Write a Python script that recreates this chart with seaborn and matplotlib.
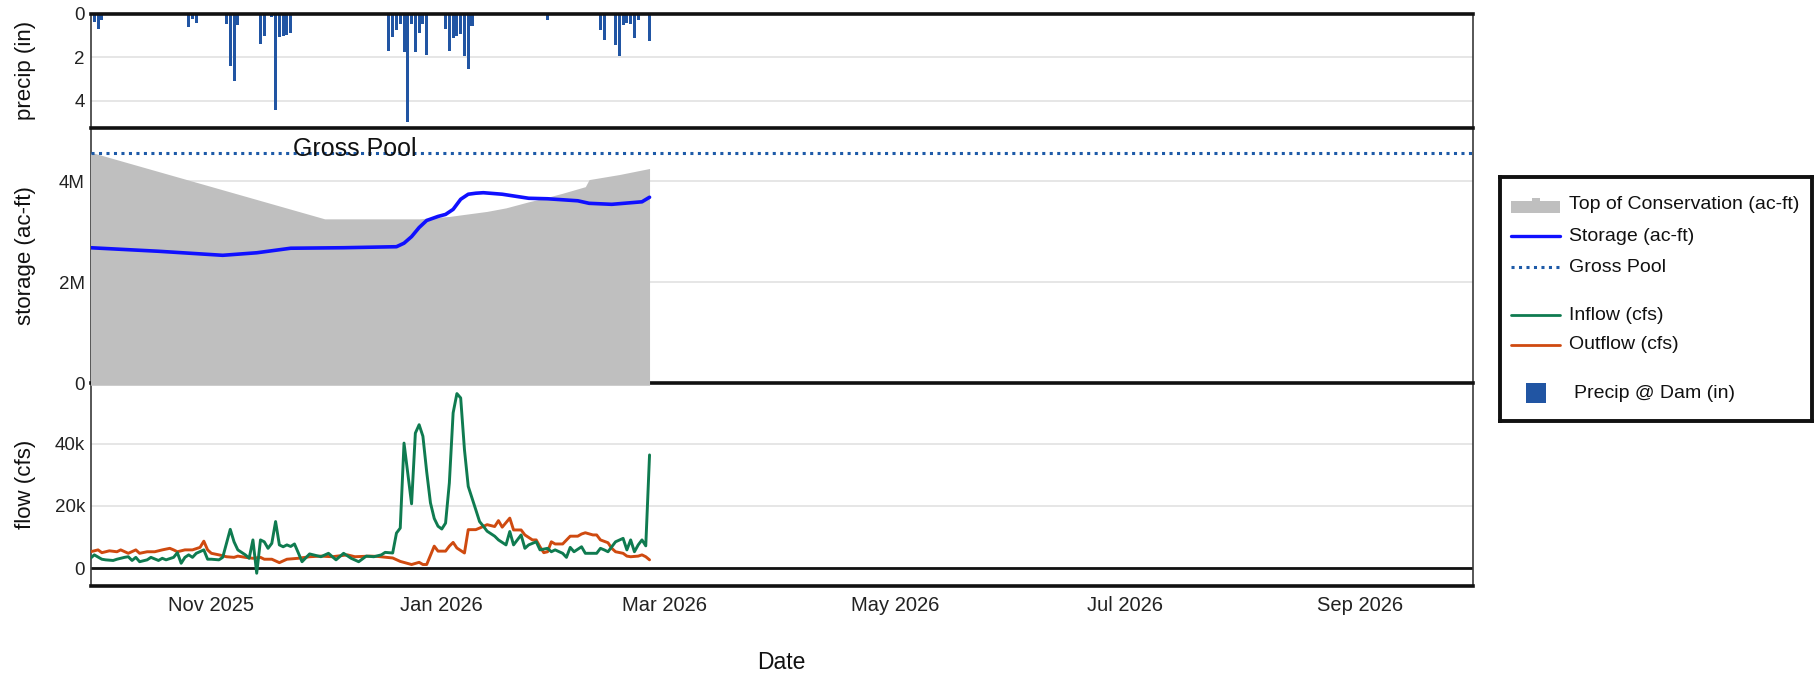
import numpy as np
import pandas as pd
import matplotlib
matplotlib.use("Agg")
import matplotlib.pyplot as plt
import matplotlib.dates as mdates
from matplotlib.ticker import FixedLocator, FuncFormatter
from matplotlib.lines import Line2D
from matplotlib.patches import Rectangle
import seaborn as sns

sns.set_theme(style="white")
plt.rcParams['font.family'] = ['Liberation Sans', 'DejaVu Sans']

# ---------------- data (day offsets from 2025-09-30) ----------------
START = pd.Timestamp("2025-09-30")

precip_day = [1, 2, 3, 15, 26, 27, 28, 36, 37, 38, 39, 45, 46, 48, 49, 50, 51, 52, 53,
              79, 80, 81, 82, 83, 84, 85, 86, 87, 88, 89,
              94, 95, 96, 97, 98, 99, 100, 101, 121,
              135, 136, 139, 140, 141, 142, 143, 144, 145, 147, 148]
precip_in = [0.35, 0.68, 0.26, 0.05, 0.62, 0.22, 0.42, 0.45, 2.40, 3.10, 0.53, 1.40, 1.00, 0.15, 4.44, 1.04, 1.03, 0.98, 0.88,
             1.73, 1.08, 0.72, 0.48, 1.77, 5.00, 0.48, 1.77, 0.88, 0.46, 1.90,
             0.68, 1.72, 1.09, 1.00, 0.92, 1.96, 2.53, 0.55, 0.28,
             0.72, 1.19, 1.42, 1.93, 0.50, 0.42, 0.45, 1.10, 0.26, 0.05, 1.26]

toc_day = [0, 1, 62, 87, 95, 100, 105, 110, 116, 120, 125, 131, 132, 140, 148]
toc_af = [4.552e6, 4.552e6, 3.252e6, 3.252e6, 3.30e6, 3.35e6, 3.40e6, 3.47e6, 3.59e6,
          3.66e6, 3.76e6, 3.89e6, 4.03e6, 4.13e6, 4.25e6]

storage_day = [0, 18, 35, 44, 53, 67, 81, 83, 85, 87, 89, 92, 94, 96, 98, 100, 102, 104, 109,
               116, 121, 129, 132, 138, 146, 148]
storage_af = [2.68e6, 2.61e6, 2.53e6, 2.58e6, 2.67e6, 2.68e6, 2.70e6, 2.77e6, 2.90e6,
              3.08e6, 3.22e6, 3.30e6, 3.34e6, 3.44e6, 3.64e6, 3.74e6, 3.76e6, 3.77e6, 3.74e6,
              3.66e6, 3.65e6, 3.61e6, 3.56e6, 3.54e6, 3.59e6, 3.68e6]

gross_pool_af = 4.552e6

inflow_day = [0, 1, 3, 4, 6, 7, 9, 10, 11, 12, 13, 15, 16, 18, 19, 20, 22, 23, 24, 25, 26, 27, 28,
              30, 31, 32, 34, 35, 37, 38, 39, 41, 42, 43, 44, 45, 46, 47, 48, 49, 50, 51,
              52, 53, 54, 55, 56, 58, 61, 63, 65, 67, 69, 71, 73, 75, 77, 78, 80, 81, 82, 83,
              85, 86, 87, 88, 89, 90, 91, 92, 93, 94, 95, 96, 97, 98, 99, 100, 102, 103, 104,
              105, 107, 108, 110, 111, 112, 114, 115, 116, 118, 119, 121, 122, 123, 125, 126,
              127, 128, 130, 131, 134, 135, 136, 137, 138, 139, 141, 142, 143, 144, 145, 146,
              147, 148]
inflow_cfs = [3200, 4300, 2900, 2700, 2500, 2900, 3500, 3700, 2500, 3500, 2100, 2700, 3500, 2500,
              3200, 2700, 3500, 5000, 1600, 3500, 4300, 3500, 4800,
              5900, 2900, 2900, 2700, 3500, 12500, 8500, 5900, 4300, 3200, 9100, -1600, 9100,
              8500, 6400, 8000, 15000, 7500, 6900,
              7500, 7000, 7800, 5000, 2100, 4600, 3700, 4800, 2700, 4800, 3200, 2100, 3900,
              3700, 4300, 5100, 4900, 11300, 12900, 40200,
              20700, 43400, 46100, 42400, 31000, 21000, 16000, 13500, 12600, 14500, 27400,
              49900, 56100, 54700, 38100, 26300, 18800, 15000, 13500,
              11900, 10300, 9100, 7500, 11800, 7500, 10700, 6400, 7500, 8500, 5900, 6400,
              5300, 5900, 4800, 3500,
              6700, 5300, 6900, 4800, 4800, 6400, 5900, 5300, 6900, 8500, 9600, 5900, 9100,
              5300, 7500, 9100, 7200, 36400]

outflow_day = [0, 2, 3, 5, 7, 8, 10, 12, 13, 15, 17, 19, 21, 22, 23, 25, 27, 29, 30, 31, 32,
               34, 36, 38, 39, 41, 43, 45, 46, 48, 50, 52, 55, 58, 61, 64, 68, 70, 74, 76,
               80, 82, 85, 87, 88, 89, 91, 92, 94, 95, 96, 97, 99, 100, 102, 103, 105, 107,
               108, 109, 111, 112, 114, 115, 117, 118, 119, 120, 121, 122, 123, 125, 127,
               129, 130, 131, 133, 134, 135, 137, 138, 139, 141, 142, 143, 145, 146, 147, 148]
outflow_cfs = [5300, 5900, 5000, 5600, 5300, 5900, 4800, 5900, 4800, 5300, 5300, 5900, 6400,
               5900, 5300, 5900, 5900, 6700, 8700, 5900, 4800,
               4300, 3700, 3500, 3900, 3500, 3200, 3500, 2900, 2900, 1800, 2900, 3200, 3700,
               3900, 3700, 4300, 3700, 3900, 3800,
               3300, 2200, 1200, 1900, 1200, 1200, 7100, 5500, 5500, 7100, 8300, 6500, 4900,
               12400, 12400, 12900, 14000, 13400,
               15300, 13200, 16100, 12300, 12300, 10700, 9100, 9100, 6900, 5000, 5300, 8500,
               7800, 7800, 10300,
               10300, 11000, 11400, 10700, 10700, 9100, 8200, 6400, 5300, 4800, 3900, 3700,
               3900, 4300, 3700, 2700]

x_ticks = ["2025-11-01", "2026-01-01", "2026-03-01", "2026-05-01", "2026-07-01", "2026-09-01"]

# ---------------- styling ----------------
C_PRECIP = "#2155a3"
C_STOR = "#1010ff"
C_GROSS = "#1d5aa8"
C_IN = "#0f7b50"
C_OUT = "#cf4a10"
C_TOC = "#bfbfbf"
C_GRID = "#e2e2e2"

def to_dates(days):
    return START + pd.to_timedelta(np.asarray(days, dtype=float), unit="D")

W, H = 1819, 673
fig = plt.figure(figsize=(W / 100, H / 100), dpi=100)
fig.patch.set_facecolor("white")

def rect(x0, y0, x1, y1):
    return [x0 / W, 1 - y1 / H, (x1 - x0) / W, (y1 - y0) / H]

L, R = 90.5, 1473
ax_f = fig.add_axes(rect(L, 383, R, 586))
ax_s = fig.add_axes(rect(L, 127.6, R, 383))
ax_p = fig.add_axes(rect(L, 14, R, 127.6))
ax_s.set_zorder(3)
ax_p.set_zorder(4)
ax_f.set_zorder(2)

xmin = START
xmax = pd.Timestamp("2026-10-01")

for ax in (ax_p, ax_s, ax_f):
    ax.set_facecolor("none")
    ax.set_xlim(xmin, xmax)
    ax.set_axisbelow(True)
    ax.yaxis.grid(True, color=C_GRID, lw=1.2)
    ax.xaxis.grid(False)
    ax.tick_params(axis="both", length=0, labelsize=13.5, colors="#222222", pad=4)
    for s in ("left", "right"):
        ax.spines[s].set_color("#3a3a3a")
        ax.spines[s].set_linewidth(1.2)
    for s in ("top", "bottom"):
        ax.spines[s].set_color("#111111")
        ax.spines[s].set_linewidth(2.6)

# ---- precip panel
pdates = to_dates(precip_day)
ax_p.bar(pdates, precip_in, width=0.8, color=C_PRECIP, linewidth=0, zorder=2)
ax_p.set_ylim(5.25, 0)
ax_p.yaxis.set_major_locator(FixedLocator([0, 2, 4]))
ax_p.yaxis.set_major_formatter(FuncFormatter(lambda v, p: f"{v:.0f}"))
ax_p.set_ylabel("precip (in)", fontsize=16, color="#111111")
ax_p.set_xlabel("")
ax_p.tick_params(axis="x", labelbottom=False)

# ---- storage panel
ax_s.fill_between(to_dates(toc_day), -0.045e6, toc_af, color=C_TOC, lw=0, zorder=2.7, clip_on=False)
sns.lineplot(x=to_dates(storage_day), y=storage_af, ax=ax_s, color=C_STOR, lw=2.6, zorder=4)
ax_s.axhline(gross_pool_af, color=C_GROSS, lw=2.2, ls=(0, (1, 1.45)), zorder=4)
ax_s.text(START + pd.Timedelta(days=70), gross_pool_af - 0.06e6, "Gross Pool",
          ha="center", va="baseline", fontsize=18, color="#111111", zorder=5)
ax_s.set_ylim(0, 5.06e6)
ax_s.yaxis.set_major_locator(FixedLocator([0, 2e6, 4e6]))
ax_s.yaxis.set_major_formatter(FuncFormatter(lambda v, p: "0" if v == 0 else f"{v/1e6:.0f}M"))
ax_s.set_ylabel("storage (ac-ft)", fontsize=16, color="#111111")
ax_s.set_xlabel("")
ax_s.spines["top"].set_visible(False)
ax_s.tick_params(axis="x", labelbottom=False)

# ---- flow panel
sns.lineplot(x=to_dates(inflow_day), y=inflow_cfs, ax=ax_f, color=C_IN, lw=2.1, zorder=4)
sns.lineplot(x=to_dates(outflow_day), y=outflow_cfs, ax=ax_f, color=C_OUT, lw=2.1, zorder=3)
ax_f.axhline(0, color="#111111", lw=2.0, zorder=2)
ax_f.set_ylim(-5700, 59500)
ax_f.yaxis.set_major_locator(FixedLocator([0, 20000, 40000]))
ax_f.yaxis.set_major_formatter(FuncFormatter(lambda v, p: "0" if v == 0 else f"{v/1000:.0f}k"))
ax_f.set_ylabel("flow (cfs)", fontsize=16, color="#111111")
ax_f.spines["top"].set_visible(False)
ax_f.xaxis.set_major_locator(FixedLocator(mdates.date2num(pd.to_datetime(x_ticks))))
ax_f.xaxis.set_major_formatter(mdates.DateFormatter("%b %Y"))
ax_f.tick_params(axis="x", labelsize=14.5, pad=7)
ax_f.set_xlabel("Date", fontsize=16.5, color="#111111")
ax_f.xaxis.set_label_coords(0.5, -0.322)

for ax in (ax_p, ax_s, ax_f):
    ax.yaxis.set_label_coords(-0.0394, 0.5)

# ---- legend (drawn in its own axes, pixel coordinates)
lx0, ly0, lx1, ly1 = 1500, 177, 1812, 421
ax_l = fig.add_axes(rect(lx0, ly0, lx1, ly1))
ax_l.set_xlim(lx0, lx1)
ax_l.set_ylim(ly1, ly0)
ax_l.set_xticks([])
ax_l.set_yticks([])
ax_l.set_facecolor("white")
for s in ax_l.spines.values():
    s.set_color("#111111")
    s.set_linewidth(2.8)

hx0, hx1, tx = 1511, 1560, 1569
fs_leg = 14
ax_l.add_patch(Rectangle((hx0, 201), hx1 - hx0, 12, color=C_TOC, lw=0))
ax_l.add_patch(Rectangle((1532, 198.5), 8, 4, color=C_TOC, lw=0))
ax_l.text(tx, 205, "Top of Conservation (ac-ft)", va="center", ha="left", fontsize=fs_leg, color="#111111")
ax_l.add_line(Line2D([hx0, hx1], [236.5, 236.5], color=C_STOR, lw=2.4))
ax_l.text(tx, 236.5, "Storage (ac-ft)", va="center", ha="left", fontsize=fs_leg, color="#111111")
ax_l.add_line(Line2D([hx0, hx1], [267.5, 267.5], color=C_GROSS, lw=2.2, ls=(0, (1, 1.45))))
ax_l.text(tx, 267.5, "Gross Pool", va="center", ha="left", fontsize=fs_leg, color="#111111")
ax_l.add_line(Line2D([hx0, hx1], [315.5, 315.5], color=C_IN, lw=2.0))
ax_l.text(tx, 315.5, "Inflow (cfs)", va="center", ha="left", fontsize=fs_leg, color="#111111")
ax_l.add_line(Line2D([hx0, hx1], [345, 345], color=C_OUT, lw=2.0))
ax_l.text(tx, 345, "Outflow (cfs)", va="center", ha="left", fontsize=fs_leg, color="#111111")
ax_l.add_patch(Rectangle((1525.5, 383), 20.5, 20, color=C_PRECIP, lw=0))
ax_l.text(1574, 393, "Precip @ Dam (in)", va="center", ha="left", fontsize=fs_leg, color="#111111")

fig.savefig("out.png", dpi=100, facecolor="white")
